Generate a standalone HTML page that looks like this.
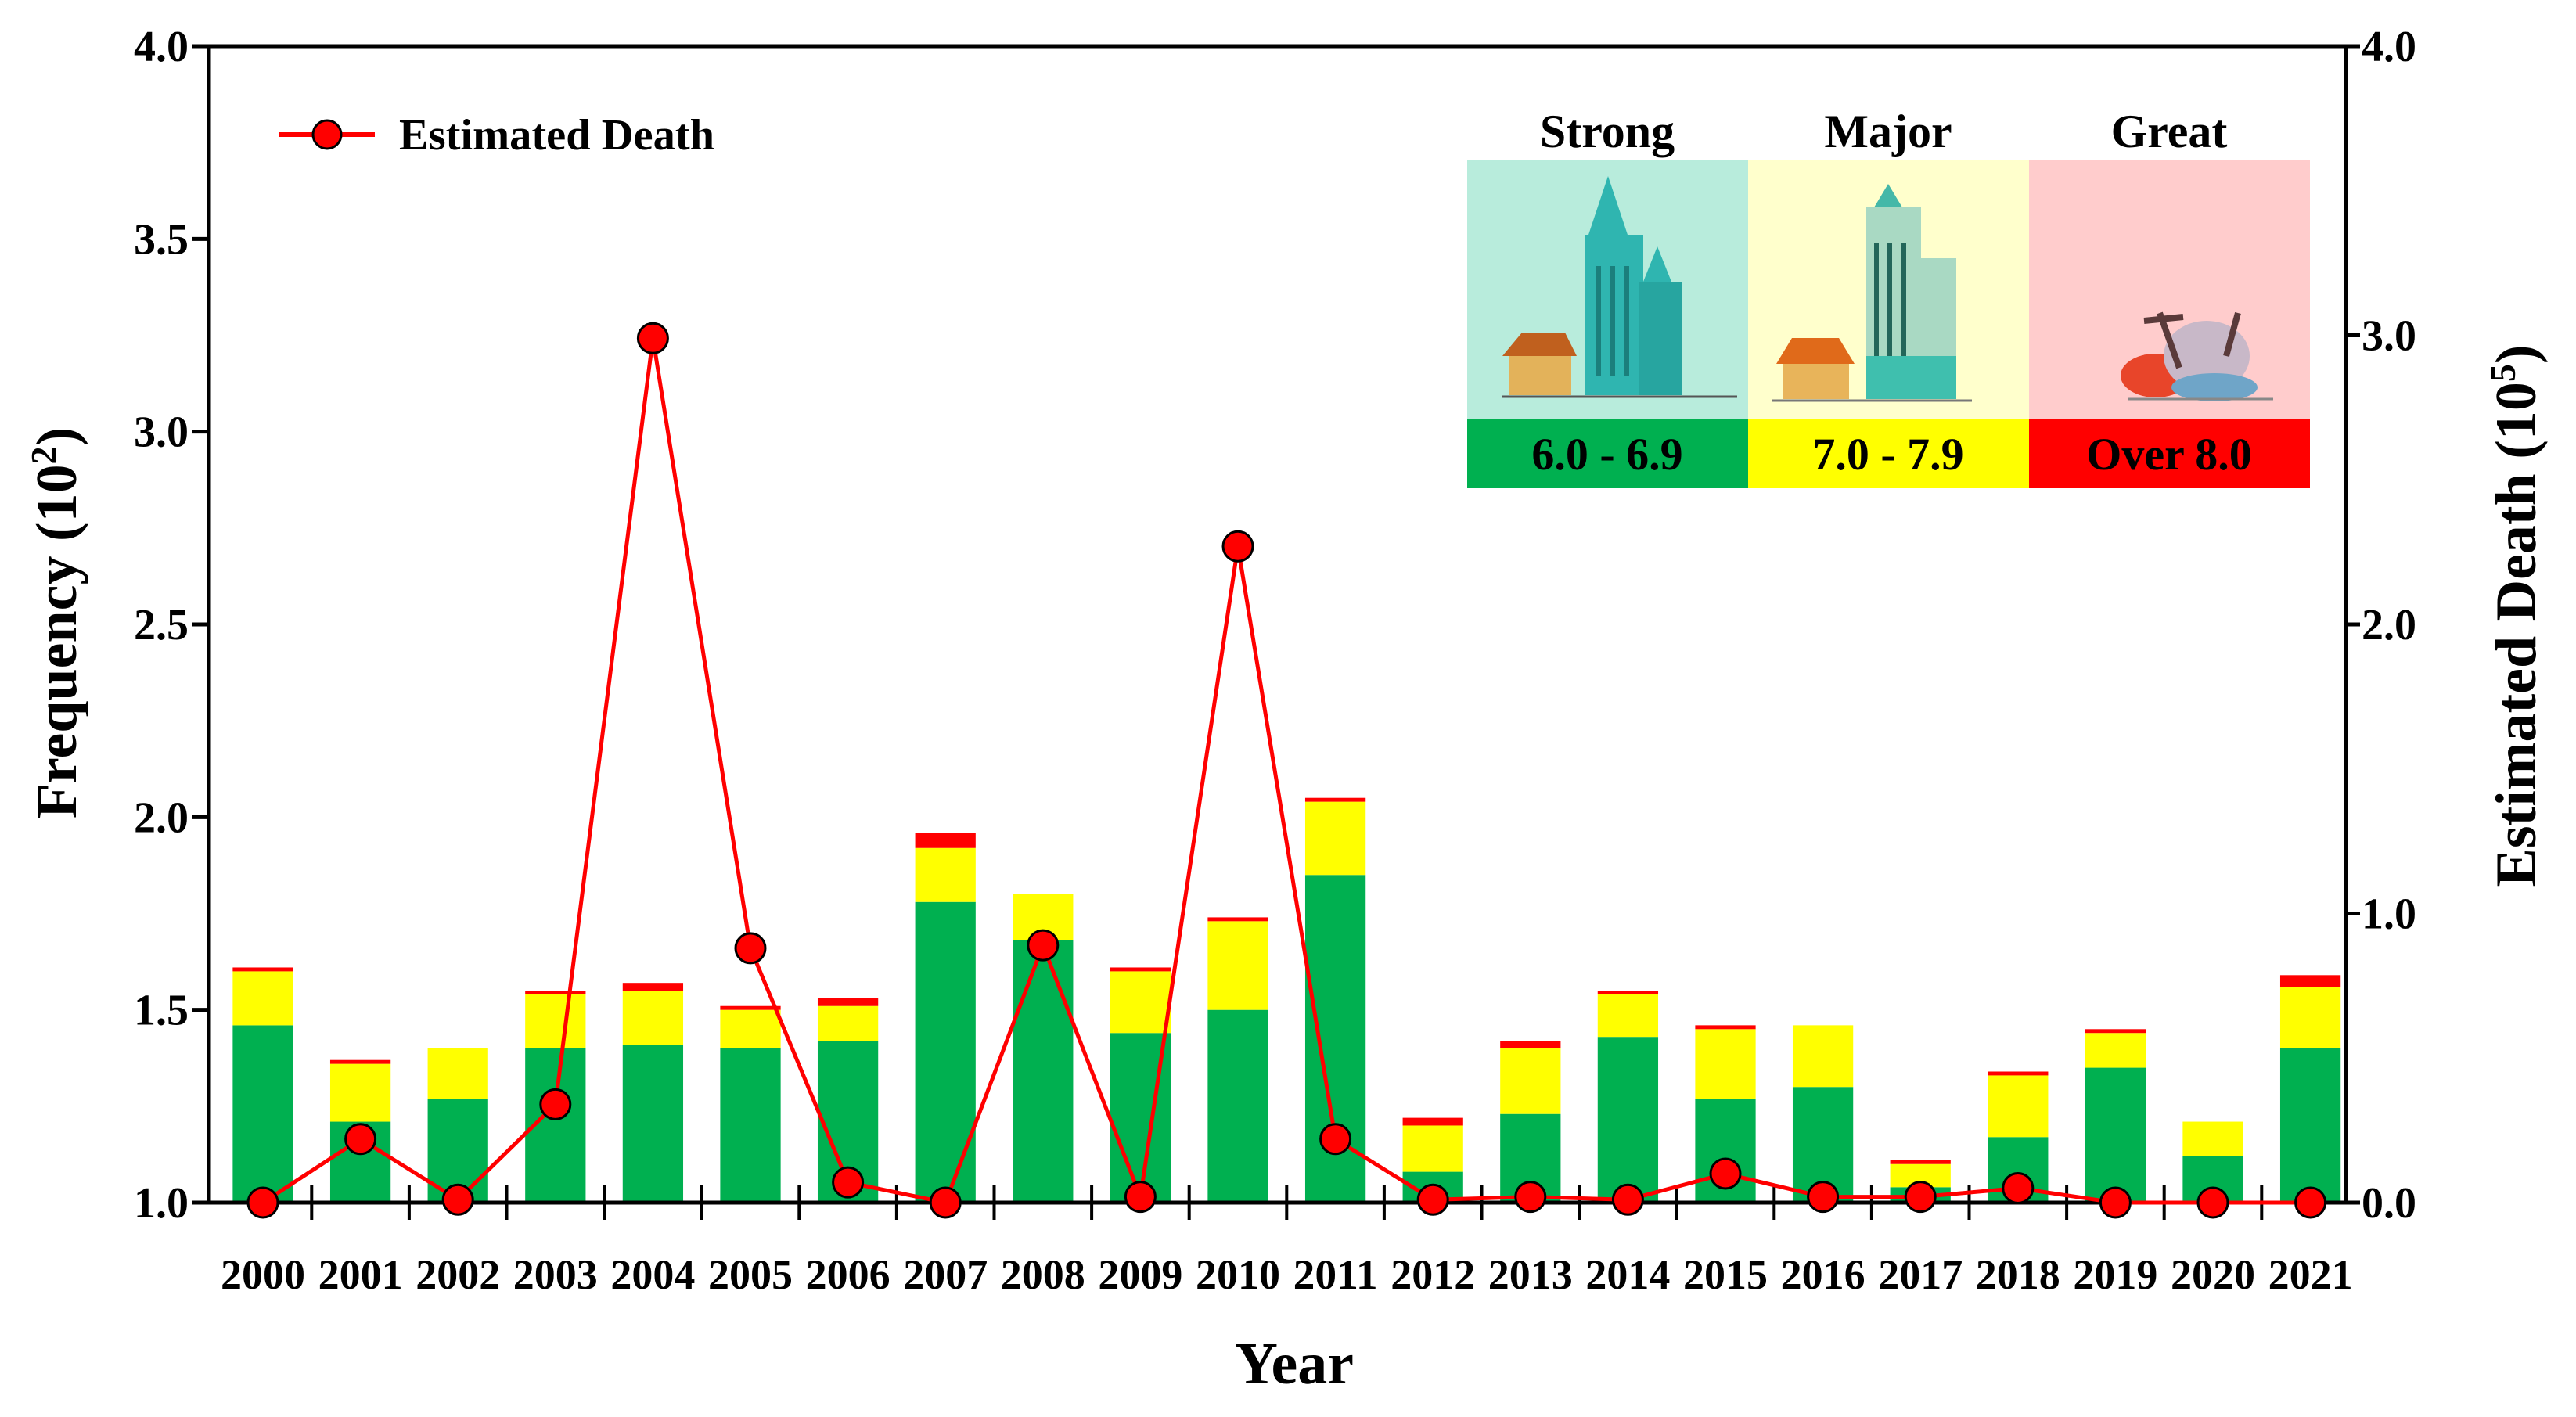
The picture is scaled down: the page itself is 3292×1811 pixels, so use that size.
<!DOCTYPE html>
<html><head><meta charset="utf-8"><style>
html,body{margin:0;padding:0;background:#fff;}
svg{display:block;}
text{font-family:"Liberation Serif",serif;font-weight:bold;fill:#000;}
</style></head><body>
<svg id="chart" width="3292" height="1811" viewBox="0 0 3292 1811" xmlns="http://www.w3.org/2000/svg">
<g id="bars"></g>
<g id="axes"></g>
<g id="line"></g>
<g id="legend">
  <line x1="357" y1="172" x2="479" y2="172" stroke="#ff0000" stroke-width="6"/>
  <circle cx="418" cy="172" r="18" fill="#ff0000" stroke="#000" stroke-width="3"/>
  <text x="510" y="191" font-size="56" textLength="403" lengthAdjust="spacingAndGlyphs">Estimated Death</text>
</g>
<g id="magnitude-key">
  <text x="2054" y="188" font-size="60" text-anchor="middle">Strong</text>
  <text x="2413" y="188" font-size="60" text-anchor="middle">Major</text>
  <text x="2772" y="188" font-size="60" text-anchor="middle">Great</text>
  <rect x="1875" y="205" width="359" height="330" fill="#b8ecdc"/>
  <rect x="2234" y="205" width="359" height="330" fill="#ffffcc"/>
  <rect x="2593" y="205" width="359" height="330" fill="#ffcccc"/>
  <g>
    <polygon points="2030,300 2055,225 2080,300" fill="#2fb5b0"/>
    <rect x="2025" y="300" width="75" height="205" fill="#2fb5b0"/>
    <polygon points="2100,360 2118,315 2136,360" fill="#2fb5b0"/>
    <rect x="2095" y="360" width="55" height="145" fill="#27a5a0"/>
    <rect x="2040" y="340" width="6" height="140" fill="#1b7f7c"/><rect x="2058" y="340" width="6" height="140" fill="#1b7f7c"/><rect x="2076" y="340" width="6" height="140" fill="#1b7f7c"/>
    <polygon points="1920,455 1945,425 2000,425 2015,455" fill="#c0601e"/>
    <rect x="1928" y="455" width="80" height="50" fill="#e3b25a"/>
    <line x1="1920" y1="507" x2="2220" y2="507" stroke="#555" stroke-width="3"/>
  </g>
  <g>
    <polygon points="2395,265 2413,235 2431,265" fill="#45b8a8"/>
    <rect x="2385" y="265" width="70" height="245" fill="#a9d9c3"/>
    <rect x="2455" y="330" width="45" height="180" fill="#a9d9c3"/>
    <rect x="2395" y="310" width="6" height="160" fill="#23665a"/><rect x="2412" y="310" width="6" height="160" fill="#23665a"/><rect x="2430" y="310" width="6" height="160" fill="#23665a"/>
    <rect x="2385" y="455" width="115" height="55" fill="#3fbfae"/>
    <polygon points="2270,465 2290,432 2350,432 2370,465" fill="#e06a1a"/>
    <rect x="2278" y="465" width="85" height="45" fill="#e8b45a"/>
    <line x1="2265" y1="512" x2="2520" y2="512" stroke="#777" stroke-width="3"/>
  </g>
  <g>
    <ellipse cx="2755" cy="480" rx="45" ry="28" fill="#e8452a"/>
    <ellipse cx="2820" cy="455" rx="55" ry="45" fill="#c8b8c8"/>
    <ellipse cx="2830" cy="495" rx="55" ry="18" fill="#6fa5c8"/>
    <line x1="2760" y1="400" x2="2785" y2="470" stroke="#5a3a3a" stroke-width="8"/>
    <line x1="2740" y1="410" x2="2790" y2="405" stroke="#5a3a3a" stroke-width="8"/>
    <line x1="2860" y1="400" x2="2845" y2="455" stroke="#5a3a3a" stroke-width="8"/>
    <line x1="2720" y1="510" x2="2905" y2="510" stroke="#888" stroke-width="3"/>
  </g>
  <rect x="1875" y="535" width="359" height="89" fill="#00b050"/>
  <rect x="2234" y="535" width="359" height="89" fill="#ffff00"/>
  <rect x="2593" y="535" width="359" height="89" fill="#ff0000"/>
  <text x="2054" y="600" font-size="58" text-anchor="middle">6.0 - 6.9</text>
  <text x="2413" y="600" font-size="58" text-anchor="middle">7.0 - 7.9</text>
  <text x="2772" y="600" font-size="58" text-anchor="middle">Over 8.0</text>
</g>
<text x="1654" y="1768" font-size="76" text-anchor="middle">Year</text>
<text transform="translate(97,796) rotate(-90)" font-size="74" text-anchor="middle">Frequency (10<tspan font-size="46" dy="-26">2</tspan><tspan dy="26">)</tspan></text>
<text transform="translate(3240,787) rotate(-90)" font-size="74" text-anchor="middle">Estimated Death (10<tspan font-size="46" dy="-26">5</tspan><tspan dy="26">)</tspan></text>
</svg>
<script>
const years = ["2000","2001","2002","2003","2004","2005","2006","2007","2008","2009","2010","2011","2012","2013","2014","2015","2016","2017","2018","2019","2020","2021"];
const strongTop = [1.46,1.21,1.27,1.40,1.41,1.40,1.42,1.78,1.68,1.44,1.50,1.85,1.08,1.23,1.43,1.27,1.30,1.04,1.17,1.35,1.12,1.40];
const majorTop  = [1.60,1.36,1.40,1.54,1.55,1.50,1.51,1.92,1.80,1.60,1.73,2.04,1.20,1.40,1.54,1.45,1.46,1.10,1.33,1.44,1.21,1.56];
const greatTop  = [1.61,1.37,1.40,1.55,1.57,1.51,1.53,1.96,1.80,1.61,1.74,2.05,1.22,1.42,1.55,1.46,1.46,1.11,1.34,1.45,1.21,1.59];
const deaths    = [0,0.22,0.01,0.34,2.99,0.88,0.07,0,0.89,0.02,2.27,0.22,0.01,0.02,0.01,0.10,0.02,0.02,0.05,0,0,0];
const leftTicks = ["1.0","1.5","2.0","2.5","3.0","3.5","4.0"];
const rightTicks = ["0.0","1.0","2.0","3.0","4.0"];

const NS="http://www.w3.org/2000/svg";
const X0=267,X1=2998,Y0=1537,Y1=59;
const step=124.6, first=336;
const xc=i=>first+step*i;
const yL=v=>Y0-(v-1)/3*(Y0-Y1);
const yR=v=>Y0-v/4*(Y0-Y1);
function mk(tag,parent,attrs){const e=document.createElementNS(NS,tag);for(const k in attrs)e.setAttribute(k,attrs[k]);parent.appendChild(e);return e;}
const bars=document.getElementById('bars'),axes=document.getElementById('axes'),line=document.getElementById('line');
const bw=step*0.62;
years.forEach((y,i)=>{
  const x=xc(i)-bw/2;
  let r=mk('rect',bars,{x:x,y:yL(strongTop[i]),width:bw,height:yL(1)-yL(strongTop[i]),fill:'#00b050'});
  
  
  r=mk('rect',bars,{x:x,y:yL(majorTop[i]),width:bw,height:yL(strongTop[i])-yL(majorTop[i]),fill:'#ffff00'});
  
  
  r=mk('rect',bars,{x:x,y:yL(greatTop[i]),width:bw,height:Math.max(0,yL(majorTop[i])-yL(greatTop[i])),fill:'#ff0000'});
  
  
});
let a=mk('path',axes,{d:`M${X0},${Y1}H${X1}V${Y0}H${X0}Z`,fill:'none',stroke:'#000','stroke-width':5});


leftTicks.forEach(t=>{
  const y=yL(parseFloat(t));
  mk('line',axes,{x1:X0-22,x2:X0,y1:y,y2:y,stroke:'#000','stroke-width':5});
  const tx=mk('text',axes,{x:X0-26,y:y+19,'font-size':56,'text-anchor':'end'});
  tx.textContent=t;
  
  
});
rightTicks.forEach(t=>{
  const y=yR(parseFloat(t));
  mk('line',axes,{x1:X1,x2:X1+18,y1:y,y2:y,stroke:'#000','stroke-width':5});
  const tx=mk('text',axes,{x:X1+20,y:y+19,'font-size':56});
  tx.textContent=t;
  
  
});
years.forEach((y,i)=>{
  if(i>0){const bx=xc(i)-step/2;mk('line',axes,{x1:bx,x2:bx,y1:Y0-22,y2:Y0+22,stroke:'#000','stroke-width':4});}
  const tx=mk('text',axes,{x:xc(i),y:1647,'font-size':54,'text-anchor':'middle',textLength:108,lengthAdjust:'spacingAndGlyphs'});
  tx.textContent=y;
  
  
});
const pts=deaths.map((d,i)=>xc(i)+','+yR(d)).join(' ');
let pl=mk('polyline',line,{points:pts,fill:'none',stroke:'#ff0000','stroke-width':5});


deaths.forEach((d,i)=>{
  const c=mk('circle',line,{cx:xc(i),cy:yR(d),r:19,fill:'#ff0000',stroke:'#000','stroke-width':3});
  
  
});
</script>
</body></html>
